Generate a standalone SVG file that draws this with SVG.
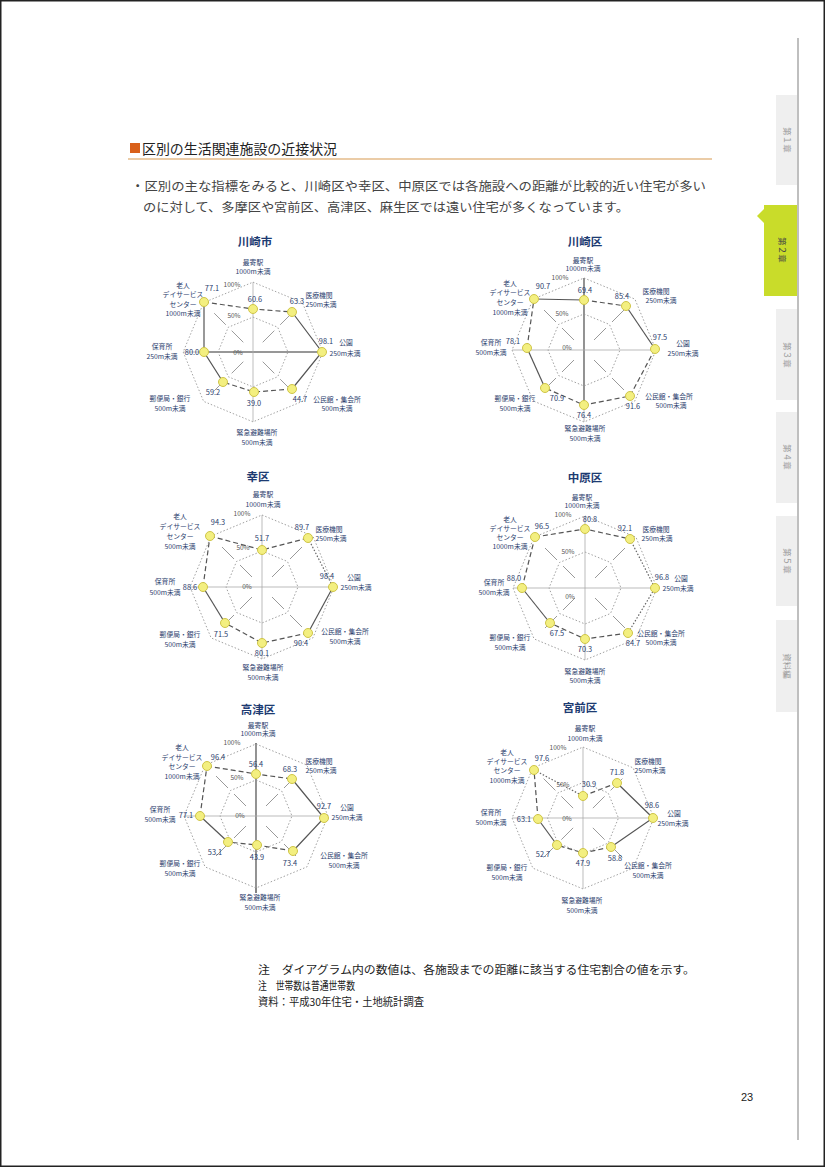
<svg xmlns="http://www.w3.org/2000/svg" xmlns:xlink="http://www.w3.org/1999/xlink" width="825" height="1167" viewBox="0 0 825 1167">
<style>
  text { font-family: "Noto Sans CJK JP", "Noto Sans", sans-serif; }
  .ttl { font-size: 11.5px; font-weight: bold; fill: #1d3b72; text-anchor: middle; }
  .lb { font-size: 6.8px; fill: #2c3e6e; text-anchor: middle; }
  .val { font-size: 7.4px; fill: #2c3e6e; text-anchor: middle; }
  .pct { font-size: 6.5px; fill: #555; text-anchor: middle; }
  .sol { stroke: #555; stroke-width: 1.2; fill: none; }
  .dsh { stroke: #555; stroke-width: 1.2; fill: none; stroke-dasharray: 5 3; }
  .dot { stroke: #666; stroke-width: 1.2; fill: none; stroke-dasharray: 1.5 1.8; }
  .axis { stroke: #666; stroke-width: 1.6; fill: none; }
  .pt { fill: #f3ef80; stroke: #cfc548; stroke-width: 1; }
  .body { font-size: 12.5px; fill: #444; }
  .note { font-size: 11px; fill: #222; }
  .tab { fill: #efefef; }
  .tabtx { font-size: 8.5px; fill: #999; text-anchor: middle; }
</style>
<defs>
  <g id="grid">
    <polygon points="0,-72 50.9,-50.9 72,0 50.9,50.9 0,72 -50.9,50.9 -72,0 -50.9,-50.9" fill="none" stroke="#888" stroke-width="0.8" stroke-dasharray="1.5 2"/>
    <polygon points="0,-36 25.5,-25.5 36,0 25.5,25.5 0,36 -25.5,25.5 -36,0 -25.5,-25.5" fill="none" stroke="#888" stroke-width="0.8" stroke-dasharray="1.5 2"/>
    <path d="M0,-72 V72 M-72,0 H72" stroke="#aaa" stroke-width="0.8" fill="none"/>
    <path d="M10,-10 L22,-22 M28,-28 L40,-40 M10,10 L22,22 M28,28 L40,40 M-10,10 L-22,22 M-28,28 L-40,40 M-10,-10 L-22,-22 M-28,-28 L-40,-40" stroke="#999" stroke-width="1" fill="none"/>
  </g>
</defs>
<rect x="0" y="0" width="825" height="1167" fill="#ffffff"/>
<rect x="0.75" y="0.75" width="823.5" height="1165.5" fill="none" stroke="#222" stroke-width="1.5"/>

<!-- sidebar -->
<g id="sidebar">
  <line x1="798" y1="38" x2="798" y2="1140" stroke="#aaa" stroke-width="1.5"/>
  <rect class="tab" x="776" y="95" width="21" height="90"/>
  <rect x="764" y="205" width="33" height="91" fill="#c9dc2a"/>
  <polygon points="764,209 757,216 764,223" fill="#c9dc2a"/>
  <rect class="tab" x="776" y="309" width="21" height="91"/>
  <rect class="tab" x="776" y="412" width="21" height="91"/>
  <rect class="tab" x="776" y="516" width="21" height="90"/>
  <rect class="tab" x="776" y="620" width="21" height="92"/>
  <text class="tabtx" transform="translate(784,140) rotate(90)">第１章</text>
  <text class="tabtx" transform="translate(779,250) rotate(90)" style="fill:#444">第２章</text>
  <text class="tabtx" transform="translate(784,355) rotate(90)">第３章</text>
  <text class="tabtx" transform="translate(784,457) rotate(90)">第４章</text>
  <text class="tabtx" transform="translate(784,561) rotate(90)">第５章</text>
  <text class="tabtx" transform="translate(784,666) rotate(90)">資料編</text>
</g>

<!-- heading -->
<g id="heading">
  <rect x="130" y="143" width="10" height="10" fill="#d9601a"/>
  <text x="142" y="153.5" style="font-size:13.5px;fill:#222" textLength="195" lengthAdjust="spacingAndGlyphs">区別の生活関連施設の近接状況</text>
  <line x1="128" y1="159" x2="712" y2="159" stroke="#d89a50" stroke-width="1.2"/>
  <text class="body" x="131" y="191" textLength="575" lengthAdjust="spacingAndGlyphs">・区別の主な指標をみると、川崎区や幸区、中原区では各施設への距離が比較的近い住宅が多い</text>
  <text class="body" x="143" y="212" textLength="486" lengthAdjust="spacingAndGlyphs">のに対して、多摩区や宮前区、高津区、麻生区では遠い住宅が多くなっています。</text>
</g>

<!-- connectors (polygon lines of each radar chart) -->
<g id="connectors">
  <!-- 川崎市 -->
  <line class="axis" x1="204" y1="352" x2="322" y2="352"/>
  <path class="dsh" d="M204,302 L253,309 L292,312"/>
  <path class="sol" d="M292,312 L322,352 L292,389"/>
  <path class="dsh" d="M292,389 L254,392 L223,382"/>
  <path class="sol" d="M223,382 L204,352 L204,302"/>
  <!-- 川崎区 -->
  <line class="axis" x1="584" y1="278" x2="584" y2="405"/>
  <path class="sol" d="M534,299 L584,300"/>
  <path class="dsh" d="M584,300 L626,306"/>
  <path class="sol" d="M626,306 L655,349"/>
  <path class="dsh" d="M655,349 L630,396 L584,405 L545,388"/>
  <path class="sol" d="M545,388 L527,348"/>
  <path class="dsh" d="M527,348 L534,299"/>
  <!-- 幸区 -->
  <path class="dsh" d="M210,536 L262,550 L308,538"/>
  <path class="dot" d="M308,538 L333,587"/>
  <path class="sol" d="M333,587 L308,633"/>
  <path class="dsh" d="M308,633 L262,643 L225,623"/>
  <path class="sol" d="M225,623 L203,587"/>
  <path class="dsh" d="M203,587 L210,536"/>
  <!-- 中原区 -->
  <path class="dsh" d="M535,537 L585,529 L630,539"/>
  <path class="dot" d="M630,539 L655,588 L628,633"/>
  <path class="dsh" d="M628,633 L585,639 L550,623"/>
  <path class="sol" d="M550,623 L522,588"/>
  <path class="dsh" d="M522,588 L535,537"/>
  <!-- 高津区 -->
  <line class="axis" x1="256" y1="743" x2="256" y2="893"/>
  <path class="dsh" d="M207,766 L256,774 L292,779"/>
  <path class="sol" d="M292,779 L324,818 L293,851"/>
  <path class="dsh" d="M293,851 L257,845 L228,842"/>
  <path class="sol" d="M228,842 L200,816"/>
  <path class="dsh" d="M200,816 L207,766"/>
  <!-- 宮前区 -->
  <path class="dot" d="M534,770 L583,796"/>
  <path class="dsh" d="M583,796 L617,783"/>
  <path class="sol" d="M617,783 L653,818 L611,847"/>
  <path class="dsh" d="M611,847 L583,853 L557,845"/>
  <path class="sol" d="M557,845 L538,819"/>
  <path class="dsh" d="M538,819 L534,770"/>
</g>

<!-- 川崎市 -->
<g id="chart-kawasaki-city">
  <use href="#grid" transform="translate(253,352) scale(0.97)"/>
  <text class="ttl" x="255" y="246">川崎市</text>
  <text class="lb" x="253" y="265">最寄駅</text>
  <text class="lb" x="253" y="274">1000m未満</text>
  <text class="pct" x="232" y="287">100%</text>
  <text class="pct" x="234" y="318">50%</text>
  <text class="pct" x="238" y="355">0%</text>
  <text class="lb" x="183" y="288">老人</text>
  <text class="lb" x="183" y="297">デイサービス</text>
  <text class="lb" x="183" y="307">センター</text>
  <text class="lb" x="183" y="316">1000m未満</text>
  <text class="lb" x="319" y="298">医療機関</text>
  <text class="lb" x="321" y="307">250m未満</text>
  <text class="lb" x="346" y="345">公園</text>
  <text class="lb" x="345" y="356">250m未満</text>
  <text class="lb" x="337" y="402">公民館・集会所</text>
  <text class="lb" x="337" y="411">500m未満</text>
  <text class="lb" x="257" y="435">緊急避難場所</text>
  <text class="lb" x="257" y="445">500m未満</text>
  <text class="lb" x="170" y="401">郵便局・銀行</text>
  <text class="lb" x="170" y="411">500m未満</text>
  <text class="lb" x="162" y="349">保育所</text>
  <text class="lb" x="162" y="359">250m未満</text>
  <circle class="pt" cx="253" cy="309" r="4.5"/>
  <circle class="pt" cx="292" cy="312" r="4.5"/>
  <circle class="pt" cx="322" cy="352" r="4.5"/>
  <circle class="pt" cx="292" cy="389" r="4.5"/>
  <circle class="pt" cx="254" cy="392" r="4.5"/>
  <circle class="pt" cx="223" cy="382" r="4.5"/>
  <circle class="pt" cx="204" cy="352" r="4.5"/>
  <circle class="pt" cx="204" cy="302" r="4.5"/>
  <text class="val" x="255" y="302">60.6</text>
  <text class="val" x="297" y="304">63.3</text>
  <text class="val" x="326" y="344">98.1</text>
  <text class="val" x="300" y="402">44.7</text>
  <text class="val" x="254" y="406">39.0</text>
  <text class="val" x="213" y="395">59.2</text>
  <text class="val" x="192" y="355">80.0</text>
  <text class="val" x="212" y="291">77.1</text>
</g>

<!-- 川崎区 -->
<g id="chart-kawasaki-ku">
  <use href="#grid" transform="translate(584,350)"/>
  <text class="ttl" x="585" y="246">川崎区</text>
  <text class="lb" x="583" y="263">最寄駅</text>
  <text class="lb" x="583" y="271">1000m未満</text>
  <text class="pct" x="560" y="280">100%</text>
  <text class="pct" x="562" y="316">50%</text>
  <text class="pct" x="567" y="350">0%</text>
  <text class="lb" x="510" y="286">老人</text>
  <text class="lb" x="510" y="295">デイサービス</text>
  <text class="lb" x="510" y="305">センター</text>
  <text class="lb" x="510" y="315">1000m未満</text>
  <text class="lb" x="656" y="294">医療機関</text>
  <text class="lb" x="661" y="303">250m未満</text>
  <text class="lb" x="683" y="346">公園</text>
  <text class="lb" x="683" y="356">250m未満</text>
  <text class="lb" x="669" y="399">公民館・集会所</text>
  <text class="lb" x="671" y="408">500m未満</text>
  <text class="lb" x="585" y="431">緊急避難場所</text>
  <text class="lb" x="585" y="441">500m未満</text>
  <text class="lb" x="515" y="401">郵便局・銀行</text>
  <text class="lb" x="515" y="411">500m未満</text>
  <text class="lb" x="491" y="345">保育所</text>
  <text class="lb" x="491" y="355">500m未満</text>
  <circle class="pt" cx="584" cy="300" r="4.5"/>
  <circle class="pt" cx="626" cy="306" r="4.5"/>
  <circle class="pt" cx="655" cy="349" r="4.5"/>
  <circle class="pt" cx="630" cy="396" r="4.5"/>
  <circle class="pt" cx="584" cy="405" r="4.5"/>
  <circle class="pt" cx="545" cy="388" r="4.5"/>
  <circle class="pt" cx="527" cy="348" r="4.5"/>
  <circle class="pt" cx="534" cy="299" r="4.5"/>
  <text class="val" x="585" y="293">69.4</text>
  <text class="val" x="622" y="299">85.4</text>
  <text class="val" x="660" y="340">97.5</text>
  <text class="val" x="633" y="409">91.6</text>
  <text class="val" x="584" y="418">76.4</text>
  <text class="val" x="557" y="401">70.9</text>
  <text class="val" x="513" y="344">78.1</text>
  <text class="val" x="543" y="289">90.7</text>
</g>

<!-- 幸区 -->
<g id="chart-saiwai-ku">
  <use href="#grid" transform="translate(262,587)"/>
  <text class="ttl" x="258" y="481">幸区</text>
  <text class="lb" x="263" y="497">最寄駅</text>
  <text class="lb" x="263" y="507">1000m未満</text>
  <text class="pct" x="242" y="516">100%</text>
  <text class="pct" x="243" y="550">50%</text>
  <text class="pct" x="247" y="589">0%</text>
  <text class="lb" x="180" y="519">老人</text>
  <text class="lb" x="180" y="529">デイサービス</text>
  <text class="lb" x="180" y="539">センター</text>
  <text class="lb" x="180" y="549">500m未満</text>
  <text class="lb" x="329" y="532">医療機関</text>
  <text class="lb" x="331" y="541">250m未満</text>
  <text class="lb" x="354" y="580">公園</text>
  <text class="lb" x="356" y="590">250m未満</text>
  <text class="lb" x="345" y="634">公民館・集会所</text>
  <text class="lb" x="345" y="644">500m未満</text>
  <text class="lb" x="263" y="670">緊急避難場所</text>
  <text class="lb" x="263" y="680">500m未満</text>
  <text class="lb" x="180" y="637">郵便局・銀行</text>
  <text class="lb" x="180" y="647">500m未満</text>
  <text class="lb" x="165" y="584">保育所</text>
  <text class="lb" x="165" y="595">500m未満</text>
  <circle class="pt" cx="262" cy="550" r="4.5"/>
  <circle class="pt" cx="308" cy="538" r="4.5"/>
  <circle class="pt" cx="333" cy="587" r="4.5"/>
  <circle class="pt" cx="308" cy="633" r="4.5"/>
  <circle class="pt" cx="262" cy="643" r="4.5"/>
  <circle class="pt" cx="225" cy="623" r="4.5"/>
  <circle class="pt" cx="203" cy="587" r="4.5"/>
  <circle class="pt" cx="210" cy="536" r="4.5"/>
  <text class="val" x="262" y="541">51.7</text>
  <text class="val" x="302" y="530">89.7</text>
  <text class="val" x="327" y="579">98.4</text>
  <text class="val" x="301" y="646">90.4</text>
  <text class="val" x="262" y="656">80.1</text>
  <text class="val" x="221" y="637">71.5</text>
  <text class="val" x="190" y="590">88.6</text>
  <text class="val" x="218" y="525">94.3</text>
</g>

<!-- 中原区 -->
<g id="chart-nakahara-ku">
  <use href="#grid" transform="translate(585,588)"/>
  <text class="ttl" x="585" y="482">中原区</text>
  <text class="lb" x="582" y="500">最寄駅</text>
  <text class="lb" x="582" y="508">1000m未満</text>
  <text class="pct" x="563" y="517">100%</text>
  <text class="pct" x="568" y="554">50%</text>
  <text class="pct" x="570" y="599">0%</text>
  <text class="lb" x="510" y="522">老人</text>
  <text class="lb" x="510" y="531">デイサービス</text>
  <text class="lb" x="510" y="540">センター</text>
  <text class="lb" x="510" y="549">1000m未満</text>
  <text class="lb" x="656" y="532">医療機関</text>
  <text class="lb" x="657" y="541">250m未満</text>
  <text class="lb" x="681" y="581">公園</text>
  <text class="lb" x="678" y="591">250m未満</text>
  <text class="lb" x="661" y="636">公民館・集会所</text>
  <text class="lb" x="661" y="645">500m未満</text>
  <text class="lb" x="585" y="674">緊急避難場所</text>
  <text class="lb" x="585" y="683">500m未満</text>
  <text class="lb" x="510" y="640">郵便局・銀行</text>
  <text class="lb" x="510" y="650">500m未満</text>
  <text class="lb" x="494" y="585">保育所</text>
  <text class="lb" x="494" y="595">500m未満</text>
  <circle class="pt" cx="585" cy="529" r="4.5"/>
  <circle class="pt" cx="630" cy="539" r="4.5"/>
  <circle class="pt" cx="655" cy="588" r="4.5"/>
  <circle class="pt" cx="628" cy="633" r="4.5"/>
  <circle class="pt" cx="585" cy="639" r="4.5"/>
  <circle class="pt" cx="550" cy="623" r="4.5"/>
  <circle class="pt" cx="522" cy="588" r="4.5"/>
  <circle class="pt" cx="535" cy="537" r="4.5"/>
  <text class="val" x="590" y="522">80.8</text>
  <text class="val" x="625" y="531">92.1</text>
  <text class="val" x="662" y="580">96.8</text>
  <text class="val" x="633" y="646">84.7</text>
  <text class="val" x="585" y="652">70.3</text>
  <text class="val" x="557" y="636">67.5</text>
  <text class="val" x="514" y="581">88.0</text>
  <text class="val" x="542" y="529">96.5</text>
</g>

<!-- 高津区 -->
<g id="chart-takatsu-ku">
  <use href="#grid" transform="translate(256,816)"/>
  <text class="ttl" x="258" y="714">高津区</text>
  <text class="lb" x="258" y="728">最寄駅</text>
  <text class="lb" x="258" y="736">1000m未満</text>
  <text class="pct" x="232" y="745">100%</text>
  <text class="pct" x="237" y="780">50%</text>
  <text class="pct" x="240" y="818">0%</text>
  <text class="lb" x="182" y="750">老人</text>
  <text class="lb" x="182" y="760">デイサービス</text>
  <text class="lb" x="182" y="769">センター</text>
  <text class="lb" x="182" y="779">1000m未満</text>
  <text class="lb" x="319" y="764">医療機関</text>
  <text class="lb" x="321" y="773">250m未満</text>
  <text class="lb" x="347" y="810">公園</text>
  <text class="lb" x="347" y="820">250m未満</text>
  <text class="lb" x="344" y="858">公民館・集会所</text>
  <text class="lb" x="344" y="868">500m未満</text>
  <text class="lb" x="260" y="900">緊急避難場所</text>
  <text class="lb" x="260" y="910">500m未満</text>
  <text class="lb" x="180" y="866">郵便局・銀行</text>
  <text class="lb" x="180" y="876">500m未満</text>
  <text class="lb" x="160" y="812">保育所</text>
  <text class="lb" x="160" y="822">500m未満</text>
  <circle class="pt" cx="256" cy="774" r="4.5"/>
  <circle class="pt" cx="292" cy="779" r="4.5"/>
  <circle class="pt" cx="324" cy="818" r="4.5"/>
  <circle class="pt" cx="293" cy="851" r="4.5"/>
  <circle class="pt" cx="257" cy="845" r="4.5"/>
  <circle class="pt" cx="228" cy="842" r="4.5"/>
  <circle class="pt" cx="200" cy="816" r="4.5"/>
  <circle class="pt" cx="207" cy="766" r="4.5"/>
  <text class="val" x="256" y="767">56.4</text>
  <text class="val" x="290" y="772">68.3</text>
  <text class="val" x="324" y="809">92.7</text>
  <text class="val" x="290" y="866">73.4</text>
  <text class="val" x="257" y="860">43.9</text>
  <text class="val" x="215" y="855">53.1</text>
  <text class="val" x="186" y="818">77.1</text>
  <text class="val" x="218" y="760">96.4</text>
</g>

<!-- 宮前区 -->
<g id="chart-miyamae-ku">
  <use href="#grid" transform="translate(583,818) scale(0.985)"/>
  <text class="ttl" x="580" y="712">宮前区</text>
  <text class="lb" x="585" y="731">最寄駅</text>
  <text class="lb" x="585" y="741">1000m未満</text>
  <text class="pct" x="558" y="750">100%</text>
  <text class="pct" x="563" y="787">50%</text>
  <text class="pct" x="567" y="821">0%</text>
  <text class="lb" x="507" y="755">老人</text>
  <text class="lb" x="507" y="764">デイサービス</text>
  <text class="lb" x="507" y="773">センター</text>
  <text class="lb" x="507" y="783">1000m未満</text>
  <text class="lb" x="648" y="764">医療機関</text>
  <text class="lb" x="650" y="773">250m未満</text>
  <text class="lb" x="674" y="816">公園</text>
  <text class="lb" x="673" y="826">250m未満</text>
  <text class="lb" x="648" y="868">公民館・集会所</text>
  <text class="lb" x="648" y="878">500m未満</text>
  <text class="lb" x="582" y="903">緊急避難場所</text>
  <text class="lb" x="582" y="913">500m未満</text>
  <text class="lb" x="507" y="870">郵便局・銀行</text>
  <text class="lb" x="507" y="880">500m未満</text>
  <text class="lb" x="491" y="815">保育所</text>
  <text class="lb" x="491" y="825">500m未満</text>
  <circle class="pt" cx="583" cy="796" r="4.5"/>
  <circle class="pt" cx="617" cy="783" r="4.5"/>
  <circle class="pt" cx="653" cy="818" r="4.5"/>
  <circle class="pt" cx="611" cy="847" r="4.5"/>
  <circle class="pt" cx="583" cy="853" r="4.5"/>
  <circle class="pt" cx="557" cy="845" r="4.5"/>
  <circle class="pt" cx="538" cy="819" r="4.5"/>
  <circle class="pt" cx="534" cy="770" r="4.5"/>
  <text class="val" x="589" y="787">30.9</text>
  <text class="val" x="617" y="775">71.8</text>
  <text class="val" x="652" y="808">98.6</text>
  <text class="val" x="615" y="861">58.8</text>
  <text class="val" x="583" y="866">47.9</text>
  <text class="val" x="543" y="857">52.7</text>
  <text class="val" x="524" y="822">63.1</text>
  <text class="val" x="542" y="761">97.6</text>
</g>

<!-- notes -->
<g id="notes">
  <text class="note" x="258" y="974" textLength="437" lengthAdjust="spacingAndGlyphs">注　ダイアグラム内の数値は、各施設までの距離に該当する住宅割合の値を示す。</text>
  <text class="note" x="258" y="990" textLength="97" lengthAdjust="spacingAndGlyphs">注　世帯数は普通世帯数</text>
  <text class="note" x="258" y="1006" textLength="166" lengthAdjust="spacingAndGlyphs">資料：平成30年住宅・土地統計調査</text>
</g>
<text id="page-number" x="741" y="1101" style="font-size:11px;fill:#222;font-family:'Liberation Sans',sans-serif">23</text>
</svg>
